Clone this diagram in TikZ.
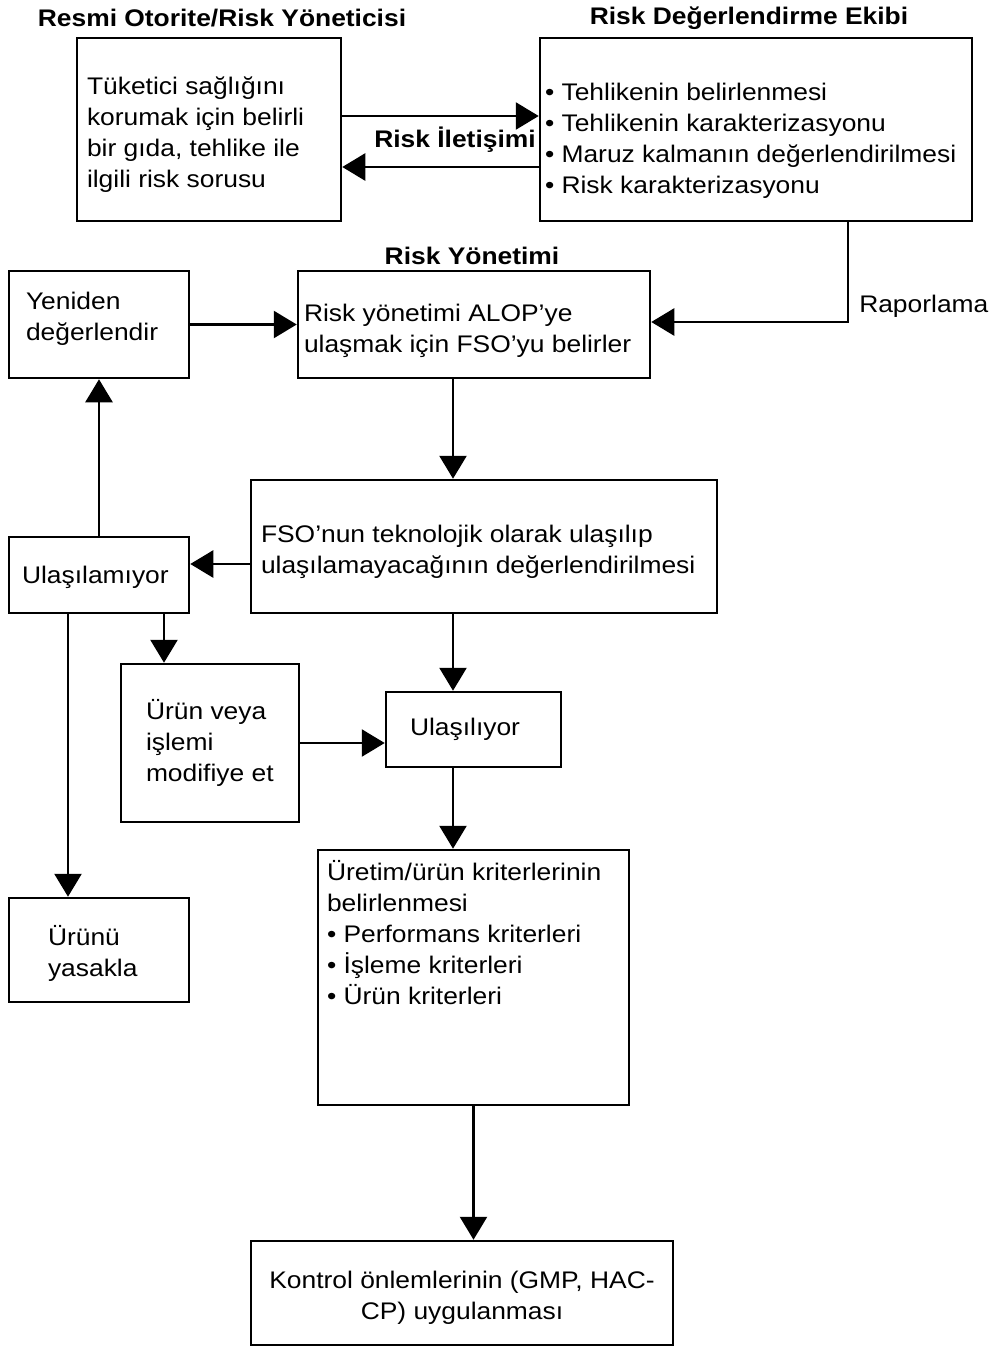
\documentclass[tikz,border=0pt]{standalone}
\usepackage{fontspec}
\setmainfont{Liberation Sans}[FakeStretch=1.1]
\usetikzlibrary{arrows.meta,calc}

\tikzset{every picture/.style={line width=2.5pt}}
\tikzset{
  box/.style={draw, rectangle, inner sep=0pt},
  txt/.style={inner sep=0pt, align=left, font=\fontsize{24}{31}\selectfont},
  ttl/.style={inner sep=0pt, font=\bfseries\fontsize{24}{31}\selectfont},
  arr/.style={-{Triangle[length=23pt,width=27pt]}}
}

\begin{document}
\begin{tikzpicture}[x=1pt,y=1pt,yscale=-1,xscale=1]
	\useasboundingbox (0,0) rectangle (992,1347);

	%Shape: Rectangle [id:authority]
	\node [box, minimum width=264, minimum height=183] (auth) at (209,129.5) {};
	%Shape: Rectangle [id:assess]
	\node [box, minimum width=432, minimum height=183] (assess) at (756,129.5) {};
	%Shape: Rectangle [id:manage]
	\node [box, minimum width=352, minimum height=107] (manage) at (474,324.5) {};
	%Shape: Rectangle [id:reeval]
	\node [box, minimum width=180, minimum height=107] (reeval) at (99,324.5) {};
	%Shape: Rectangle [id:feasible]
	\node [box, minimum width=466, minimum height=133] (feasible) at (484,546.5) {};
	%Shape: Rectangle [id:notreach]
	\node [box, minimum width=180, minimum height=76] (notreach) at (99,575) {};
	%Shape: Rectangle [id:modify]
	\node [box, minimum width=178, minimum height=158] (modify) at (210,743) {};
	%Shape: Rectangle [id:reach]
	\node [box, minimum width=175, minimum height=75] (reach) at (473.5,729.5) {};
	%Shape: Rectangle [id:ban]
	\node [box, minimum width=180, minimum height=104] (ban) at (99,950) {};
	%Shape: Rectangle [id:criteria]
	\node [box, minimum width=311, minimum height=255] (criteria) at (473.5,977.5) {};
	%Shape: Rectangle [id:control]
	\node [box, minimum width=422, minimum height=104] (control) at (462,1293) {};

	%Straight Lines [id:comm1]
	\draw [arr] ([yshift=-13.5]auth.east) -- ([yshift=-13.5]assess.west) ;
	%Straight Lines [id:comm2]
	\draw [arr] ([yshift=37.5]assess.west) -- ([yshift=37.5]auth.east) ;
	%Straight Lines [id:report]
	\draw [arr] ([xshift=92]assess.south) |- ([yshift=-2.5]manage.east) ;
	%Straight Lines [id:again]
	\draw [arr] (reeval.east) -- (manage.west) ;
	%Straight Lines [id:tofeas]
	\draw [arr] ([xshift=-21]manage.south) -- ([xshift=-21]manage.south |- feasible.north) ;
	%Straight Lines [id:tonot]
	\draw [arr] ([yshift=-11]notreach.east -| feasible.west) -- ([yshift=-11]notreach.east) ;
	%Straight Lines [id:upre]
	\draw [arr] (notreach.north) -- (reeval.south) ;
	%Straight Lines [id:tomod]
	\draw [arr] ([xshift=65]notreach.south) -- ([xshift=65]notreach.south |- modify.north) ;
	%Straight Lines [id:toban]
	\draw [arr] ([xshift=-31]notreach.south) -- ([xshift=-31]notreach.south |- ban.north) ;
	%Straight Lines [id:toreach]
	\draw [arr] ([xshift=-20.5]reach.north |- feasible.south) -- ([xshift=-20.5]reach.north) ;
	%Straight Lines [id:modreach]
	\draw [arr] (modify.east) -- (modify.east -| reach.west) ;
	%Straight Lines [id:tocrit]
	\draw [arr] ([xshift=-20.5]reach.south) -- ([xshift=-20.5]reach.south |- criteria.north) ;
	%Straight Lines [id:toctrl]
	\draw [arr] (criteria.south) -- (criteria.south |- control.north) ;

	% Text Node
	\node [ttl] (ttlauth) at (222,18) {Resmi Otorite/Risk Yöneticisi};
	% Text Node
	\node [ttl] (ttlassess) at (749,18) {Risk Değerlendirme Ekibi};
	% Text Node
	\node [ttl] (ttlmanage) at (472,256) {Risk Yönetimi};
	% Text Node
	\node [ttl] (ttlcomm) at (455,140) {Risk İletişimi};
	% Text Node
	\node [txt, anchor=west] (txtreport) at (858,306) {Raporlama};
	% Text Node
	\node [txt, anchor=west] (txtauth) at ([xshift=10,yshift=5]auth.west) {Tüketici sağlığını\\korumak için belirli\\bir gıda, tehlike ile\\ilgili risk sorusu};
	% Text Node
	\node [txt, anchor=west] (txtassess) at ([xshift=5,yshift=11]assess.west) {• Tehlikenin belirlenmesi\\• Tehlikenin karakterizasyonu\\• Maruz kalmanın değerlendirilmesi\\• Risk karakterizasyonu};
	% Text Node
	\node [txt, anchor=west] (txtmanage) at ([xshift=6,yshift=6]manage.west) {Risk yönetimi ALOP’ye\\ulaşmak için FSO’yu belirler};
	% Text Node
	\node [txt, anchor=west] (txtreeval) at ([xshift=17,yshift=-5.5]reeval.west) {Yeniden\\değerlendir};
	% Text Node
	\node [txt, anchor=west] (txtfeas) at ([xshift=10,yshift=5.5]feasible.west) {FSO’nun teknolojik olarak ulaşılıp\\ulaşılamayacağının değerlendirilmesi};
	% Text Node
	\node [txt, anchor=west] (txtnot) at ([xshift=13,yshift=2]notreach.west) {Ulaşılamıyor};
	% Text Node
	\node [txt, anchor=west] (txtmod) at ([xshift=25]modify.west) {Ürün veya\\işlemi\\modifiye et};
	% Text Node
	\node [txt, anchor=west] (txtreach) at ([xshift=24,yshift=-0.5]reach.west) {Ulaşılıyor};
	% Text Node
	\node [txt, anchor=west] (txtban) at ([xshift=39,yshift=3.5]ban.west) {Ürünü\\yasakla};
	% Text Node
	\node [txt, anchor=north west] (txtcrit) at ([xshift=9,yshift=10]criteria.north west) {Üretim/ürün kriterlerinin\\belirlenmesi\\• Performans kriterleri\\• İşleme kriterleri\\• Ürün kriterleri};
	% Text Node
	\node [txt, align=center] (txtctrl) at ([yshift=4.5]control.center) {Kontrol önlemlerinin (GMP, HAC-\\CP) uygulanması};

\end{tikzpicture}
\end{document}
